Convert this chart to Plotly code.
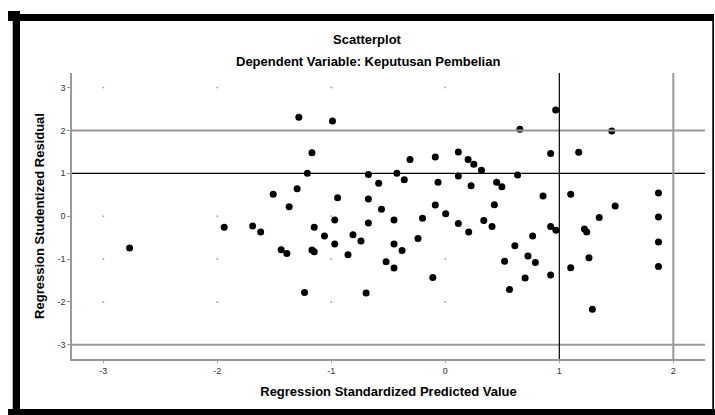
import plotly.graph_objects as go

# Data
pred_x = [-2.77, -1.94, -1.69, -1.62, -1.51,
          -1.285, -0.99, -1.17, -1.21, -1.30, -1.37, -1.44, -1.39, -1.15, -1.17, -1.15, -1.235,
          -0.945, -0.97, -1.06, -0.97, -0.854, -0.81, -0.74, -0.695, -0.675, -0.675, -0.675,
          -0.585, -0.56, -0.52, -0.45, -0.45, -0.38, -0.45, -0.425, -0.36, -0.31, -0.24, -0.20,
          -0.11, -0.088, -0.064, -0.088, 0.003, 0.114, 0.114, 0.114, 0.20, 0.25, 0.226, 0.205,
          0.317, 0.337,
          0.968, 0.654, 1.46, 0.924, 1.17, 0.634, 0.45, 0.496, 0.857, 1.10, 0.43, 1.87, 1.49,
          1.35, 1.87, 0.41, 0.924, 0.97, 1.22, 1.24, 0.766, 0.61, 1.87, 0.52, 0.725, 0.79, 1.26,
          1.10, 1.87, 0.70, 0.924, 0.563, 1.29]
resid_y = [-0.74, -0.26, -0.23, -0.37, 0.51,
           2.31, 2.22, 1.48, 1.00, 0.64, 0.22, -0.78, -0.87, -0.26, -0.79, -0.83, -1.78,
           0.43, -0.09, -0.46, -0.65, -0.90, -0.43, -0.58, -1.79, 0.97, 0.40, -0.16,
           0.77, 0.16, -1.06, -1.21, -0.65, -0.80, -0.09, 1.00, 0.85, 1.32, -0.52, -0.05,
           -1.43, 1.38, 0.79, 0.26, 0.06, 1.50, 0.94, -0.17, 1.32, 1.21, 0.71, -0.37,
           1.07, -0.10,
           2.48, 2.03, 1.99, 1.46, 1.49, 0.96, 0.79, 0.69, 0.47, 0.51, 0.27, 0.54, 0.24,
           -0.03, -0.02, -0.24, -0.24, -0.33, -0.30, -0.37, -0.46, -0.69, -0.60, -1.05, -0.93, -1.08, -0.97,
           -1.20, -1.17, -1.44, -1.37, -1.71, -2.17]

x_ticks = [-3, -2, -1, 0, 1, 2]
y_ticks = [-3, -2, -1, 0, 1, 2, 3]
grid_dot_x = [-3, -2, -1, 0]
grid_dot_y = [3, 0, -1, -2]
black_ref_y = [1]
gray_ref_y = [2, -3]
black_ref_x = [1]
gray_ref_x = [2]

FONT = "Liberation Sans, Arial, sans-serif"

fig = go.Figure()

gx = [x for x in grid_dot_x for _ in grid_dot_y]
gy = [y for _ in grid_dot_x for y in grid_dot_y]
fig.add_trace(go.Scatter(x=gx, y=gy, mode="markers",
                         marker=dict(size=2, color="#aaaaaa"), hoverinfo="skip", showlegend=False))

fig.add_trace(go.Scatter(x=pred_x, y=resid_y, mode="markers",
                         marker=dict(size=7, color="black"), showlegend=False))

for v in black_ref_y:
    fig.add_shape(type="line", xref="x domain", yref="y", x0=0, x1=1, y0=v, y1=v,
                  line=dict(color="black", width=1.2))
for v in gray_ref_y:
    fig.add_shape(type="line", xref="x domain", yref="y", x0=0, x1=1, y0=v, y1=v,
                  line=dict(color="#999999", width=2))
for v in black_ref_x:
    fig.add_shape(type="line", xref="x", yref="y domain", x0=v, x1=v, y0=0, y1=1,
                  line=dict(color="black", width=1.2))
for v in gray_ref_x:
    fig.add_shape(type="line", xref="x", yref="y domain", x0=v, x1=v, y0=0, y1=1,
                  line=dict(color="#999999", width=2))

# Outer frame (pixel coordinates converted to paper coordinates)
L, R, T, B = 72, 705, 73, 359
W, H = R - L, B - T
def px(x):
    return (x - L) / W
def py(y):
    return (B - y) / H

frame_rects = [
    (8, 14, 713, 21),     # top bar
    (12.7, 11, 20, 415),  # left bar
    (8, 11, 20, 21),      # corner nub
    (8, 409, 716, 416),   # bottom bar
    (712.3, 14, 714, 409) # right thin line
]
for x0, y0, x1, y1 in frame_rects:
    fig.add_shape(type="rect", xref="paper", yref="paper",
                  x0=px(x0), x1=px(x1), y0=py(y1), y1=py(y0),
                  fillcolor="black", line=dict(width=0), layer="above")

fig.add_annotation(text="<b>Scatterplot</b>", xref="paper", yref="paper",
                   x=px(367.5), y=py(40), showarrow=False, xanchor="center", yanchor="middle",
                   font=dict(family=FONT, size=13, color="black"))
fig.add_annotation(text="<b>Dependent Variable: Keputusan Pembelian</b>", xref="paper", yref="paper",
                   x=px(368), y=py(61), showarrow=False, xanchor="center", yanchor="middle",
                   font=dict(family=FONT, size=13, color="black"))

fig.update_layout(
    width=715, height=415,
    margin=dict(l=L, r=715 - R, t=T, b=415 - B),
    paper_bgcolor="white", plot_bgcolor="white",
    font=dict(family=FONT, color="black"),
)
fig.update_xaxes(range=[-3.275, 2.278], tickvals=x_ticks, ticktext=[str(v) for v in x_ticks],
                 showgrid=False, zeroline=False, showline=True, linecolor="#999999", linewidth=1.5,
                 ticks="outside", ticklen=2, tickcolor="#999999",
                 tickfont=dict(family=FONT, size=9, color="#333333"),
                 title=dict(text="<b>Regression Standardized Predicted Value</b>",
                            font=dict(family=FONT, size=13, color="black"), standoff=12))
fig.update_yaxes(range=[-3.33, 3.34], tickvals=y_ticks, ticktext=[str(v) for v in y_ticks],
                 showgrid=False, zeroline=False, showline=True, linecolor="#999999", linewidth=1.5,
                 ticks="outside", ticklen=3, tickcolor="#999999",
                 tickfont=dict(family=FONT, size=9, color="#333333"),
                 title=dict(text="<b>Regression Studentized Residual</b>",
                            font=dict(family=FONT, size=13, color="black"), standoff=10))

fig.write_html("out.html", config={"displayModeBar": False},
               post_script="document.body.style.margin='0';document.body.style.overflow='hidden';")
